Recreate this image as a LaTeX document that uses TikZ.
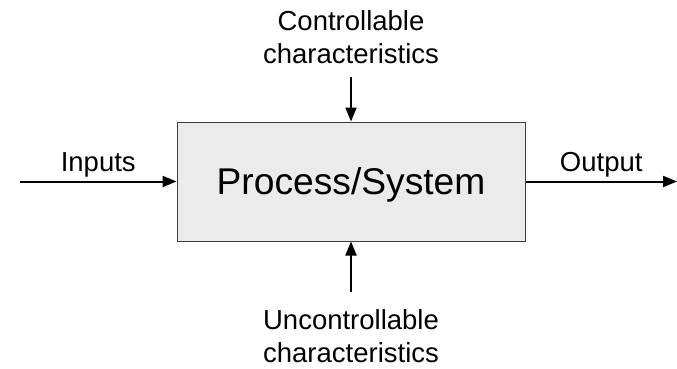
\documentclass[tikz,border=0pt]{standalone}
\usepackage{fontspec}
\setmainfont{Liberation Sans}
\usetikzlibrary{arrows.meta}

\definecolor{boxfill}{HTML}{EBEBEB}
\definecolor{boxline}{HTML}{3C3C3C}

\tikzset{
  flow/.style={-{Triangle[length=14pt,width=11pt]}, line width=2pt},
  lbl/.style={font=\fontsize{27.5}{33}\selectfont, inner sep=0pt, align=center},
}

\begin{document}
\begin{tikzpicture}[x=1pt, y=-1pt]
  \useasboundingbox (0,0) rectangle (677,368);

  % --- The process box ---
  \node[draw=boxline, fill=boxfill, line width=1pt, minimum width=348pt,
        minimum height=119pt, text depth=0pt,
        font=\fontsize{37.2}{41}\selectfont] (box) at (351,181.5) {Process/System};

  % --- Inputs and output ---
  \coordinate (in) at (20,181.5);
  \coordinate (out) at (677,181.5);
  \draw[flow] (in) -- node[lbl, above=3pt] (inlbl) {Inputs} (box);
  \draw[flow] (box) -- node[lbl, above=3pt] (outlbl) {Output} (out);

  % --- Characteristics from above and below ---
  \node[lbl, anchor=south] (ctrl) at (351,64) {Controllable\\characteristics};
  \node[lbl, anchor=north] (unctrl) at (351,309) {Uncontrollable\\characteristics};
  \draw[flow, shorten <=13pt] (ctrl.south) -- (box.north);
  \draw[flow, shorten <=17pt] (unctrl.north) -- (box.south);

\end{tikzpicture}
\end{document}
